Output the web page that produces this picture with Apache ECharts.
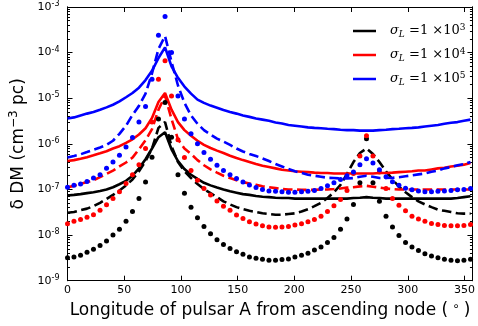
<!DOCTYPE html>
<html>
<head>
<meta charset="utf-8">
<script src="https://cdn.jsdelivr.net/npm/echarts@6/dist/echarts.min.js"></script>
<style>
  html, body { margin: 0; padding: 0; background: #fff; }
  #chart { width: 478px; height: 326px; }
</style>
</head>
<body>
<div id="chart"></div>
<script>
// longitude of pulsar A from ascending node (deg), sample grid
const longitude = [0, 5.7, 11.5, 17.2, 22.9, 28.7, 34.4, 40.1, 45.8, 51.6, 57.3, 63, 68.8, 74.5, 80.2, 86,
  91.7, 97.4, 103.1, 108.9, 114.6, 120.3, 126.1, 131.8, 137.5, 143.3, 149, 154.7, 160.4, 166.2, 171.9, 177.6,
  183.4, 189.1, 194.8, 200.5, 206.3, 212, 217.7, 223.5, 229.2, 234.9, 240.7, 246.4, 252.1, 257.8, 263.6, 269.3,
  275, 280.8, 286.5, 292.2, 298, 303.7, 309.4, 315.1, 320.9, 326.6, 332.3, 338.1, 343.8, 349.5, 355.3];

// sigma_L = 1e3 (black)
const blackSolid = [7.4e-8, 7.6e-8, 7.9e-8, 8.3e-8, 8.7e-8, 9.3e-8, 1.0e-7, 1.12e-7, 1.3e-7, 1.55e-7, 2.0e-7, 2.9e-7, 4.6e-7, 7.9e-7, 1.4e-6, 1.8e-6,
  7.6e-7, 4.2e-7, 2.8e-7, 2.1e-7, 1.7e-7, 1.4e-7, 1.23e-7, 1.1e-7, 1.0e-7, 9.1e-8, 8.5e-8, 7.9e-8, 7.6e-8, 7.2e-8, 6.9e-8, 6.8e-8,
  6.6e-8, 6.5e-8, 6.5e-8, 6.3e-8, 6.3e-8, 6.3e-8, 6.3e-8, 6.3e-8, 6.3e-8, 6.3e-8, 6.3e-8, 6.3e-8, 6.5e-8, 6.6e-8, 6.8e-8, 6.6e-8,
  6.5e-8, 6.3e-8, 6.3e-8, 6.3e-8, 6.3e-8, 6.3e-8, 6.3e-8, 6.3e-8, 6.3e-8, 6.3e-8, 6.3e-8, 6.3e-8, 6.5e-8, 6.8e-8, 7.1e-8];
const blackDashed = [3.1e-8, 3.2e-8, 3.5e-8, 3.8e-8, 4.3e-8, 5.1e-8, 6.2e-8, 7.6e-8, 9.5e-8, 1.23e-7, 1.66e-7, 2.5e-7, 4.2e-7, 7.9e-7, 2.24e-6, 3.0e-6,
  8.9e-7, 4.0e-7, 2.5e-7, 1.78e-7, 1.32e-7, 1.02e-7, 8.3e-8, 6.8e-8, 5.5e-8, 4.7e-8, 4.1e-8, 3.7e-8, 3.4e-8, 3.2e-8, 3.0e-8, 2.9e-8,
  2.8e-8, 2.8e-8, 2.9e-8, 3.0e-8, 3.3e-8, 3.7e-8, 4.3e-8, 5.1e-8, 6.5e-8, 8.7e-8, 1.26e-7, 2.2e-7, 4.0e-7, 6.3e-7, 7.9e-7, 6.0e-7,
  4.0e-7, 2.5e-7, 1.66e-7, 1.15e-7, 8.7e-8, 6.8e-8, 5.5e-8, 4.7e-8, 4.1e-8, 3.6e-8, 3.4e-8, 3.2e-8, 3.0e-8, 2.95e-8, 2.95e-8];
const blackDotted = [3.2e-9, 3.3e-9, 3.6e-9, 4.2e-9, 4.9e-9, 5.9e-9, 7.4e-9, 1.0e-8, 1.35e-8, 2.0e-8, 3.3e-8, 6.3e-8, 1.45e-7, 5.1e-7, 3.5e-6, 8.1e-6,
  1.4e-6, 2.1e-7, 8.3e-8, 4.1e-8, 2.4e-8, 1.55e-8, 1.07e-8, 7.9e-9, 6.2e-9, 5.1e-9, 4.3e-9, 3.8e-9, 3.3e-9, 3.1e-9, 2.95e-9, 2.8e-9,
  2.8e-9, 2.9e-9, 3.0e-9, 3.3e-9, 3.6e-9, 4.0e-9, 4.7e-9, 5.5e-9, 6.9e-9, 8.9e-9, 1.35e-8, 2.24e-8, 4.7e-8, 1.4e-7, 1.3e-6, 1.4e-7,
  5.5e-8, 2.6e-8, 1.5e-8, 9.8e-9, 6.9e-9, 5.5e-9, 4.6e-9, 3.9e-9, 3.5e-9, 3.2e-9, 2.95e-9, 2.8e-9, 2.75e-9, 2.8e-9, 2.95e-9];

// sigma_L = 1e4 (red)
const redSolid = [4.2e-7, 4.4e-7, 4.7e-7, 5.1e-7, 5.6e-7, 6.2e-7, 6.9e-7, 7.9e-7, 8.9e-7, 1.05e-6, 1.26e-6, 1.6e-6, 2.2e-6, 3.7e-6, 8.3e-6, 1.3e-5,
  5.6e-6, 3.0e-6, 2.0e-6, 1.5e-6, 1.17e-6, 9.5e-7, 8.1e-7, 7.1e-7, 6.3e-7, 5.5e-7, 4.9e-7, 4.4e-7, 4.0e-7, 3.6e-7, 3.3e-7, 3.1e-7,
  2.9e-7, 2.7e-7, 2.6e-7, 2.5e-7, 2.45e-7, 2.4e-7, 2.34e-7, 2.3e-7, 2.3e-7, 2.24e-7, 2.24e-7, 2.24e-7, 2.24e-7, 2.24e-7, 2.24e-7, 2.24e-7,
  2.3e-7, 2.3e-7, 2.34e-7, 2.4e-7, 2.45e-7, 2.5e-7, 2.6e-7, 2.6e-7, 2.75e-7, 2.9e-7, 3.0e-7, 3.2e-7, 3.3e-7, 3.5e-7, 3.8e-7];
const redDashed = [1.12e-7, 1.2e-7, 1.32e-7, 1.45e-7, 1.6e-7, 1.86e-7, 2.2e-7, 2.6e-7, 3.2e-7, 3.9e-7, 5.0e-7, 7.6e-7, 1.2e-6, 2.1e-6, 5.6e-6, 1.12e-5,
  3.5e-6, 1.26e-6, 7.9e-7, 6.0e-7, 4.4e-7, 3.4e-7, 2.75e-7, 2.34e-7, 2.0e-7, 1.78e-7, 1.6e-7, 1.45e-7, 1.35e-7, 1.26e-7, 1.17e-7, 1.12e-7,
  1.07e-7, 1.02e-7, 1.0e-7, 1.0e-7, 9.8e-8, 9.8e-8, 9.8e-8, 1.0e-7, 1.0e-7, 1.02e-7, 1.05e-7, 1.1e-7, 1.12e-7, 1.17e-7, 1.2e-7, 1.15e-7,
  1.1e-7, 1.05e-7, 1.02e-7, 1.0e-7, 1.0e-7, 1.0e-7, 1.0e-7, 1.0e-7, 1.0e-7, 1.0e-7, 1.0e-7, 1.0e-7, 1.0e-7, 1.0e-7, 1.0e-7];
const redDotted = [1.78e-8, 2.0e-8, 2.2e-8, 2.45e-8, 2.8e-8, 3.5e-8, 4.6e-8, 6.3e-8, 8.9e-8, 1.35e-7, 2.1e-7, 3.5e-7, 7.9e-7, 3.0e-6, 2.6e-5, 6.6e-5,
  1.12e-5, 1.23e-6, 5.0e-7, 2.6e-7, 1.6e-7, 1.05e-7, 7.6e-8, 5.6e-8, 4.3e-8, 3.5e-8, 2.75e-8, 2.3e-8, 1.95e-8, 1.74e-8, 1.6e-8, 1.5e-8,
  1.48e-8, 1.5e-8, 1.55e-8, 1.66e-8, 1.78e-8, 1.95e-8, 2.2e-8, 2.6e-8, 3.3e-8, 4.4e-8, 6.0e-8, 9.5e-8, 2.24e-7, 5.4e-7, 1.5e-6, 5.4e-7,
  2.4e-7, 1.05e-7, 6.3e-8, 4.5e-8, 3.4e-8, 2.6e-8, 2.24e-8, 2.0e-8, 1.8e-8, 1.7e-8, 1.62e-8, 1.6e-8, 1.6e-8, 1.62e-8, 1.7e-8];

// sigma_L = 1e5 (blue)
const blueSolid = [3.6e-6, 3.8e-6, 4.2e-6, 4.6e-6, 5.0e-6, 5.6e-6, 6.3e-6, 7.2e-6, 8.5e-6, 1.05e-5, 1.3e-5, 1.7e-5, 2.5e-5, 4.0e-5, 7.6e-5, 1.3e-4,
  5.0e-5, 2.8e-5, 1.8e-5, 1.26e-5, 9.3e-6, 7.9e-6, 6.9e-6, 6.2e-6, 5.5e-6, 5.0e-6, 4.6e-6, 4.2e-6, 3.9e-6, 3.6e-6, 3.4e-6, 3.2e-6,
  2.95e-6, 2.8e-6, 2.6e-6, 2.5e-6, 2.4e-6, 2.3e-6, 2.24e-6, 2.2e-6, 2.14e-6, 2.1e-6, 2.04e-6, 2.0e-6, 2.0e-6, 1.95e-6, 1.95e-6, 1.95e-6,
  2.0e-6, 2.04e-6, 2.1e-6, 2.14e-6, 2.2e-6, 2.24e-6, 2.3e-6, 2.4e-6, 2.5e-6, 2.6e-6, 2.75e-6, 2.9e-6, 3.0e-6, 3.2e-6, 3.4e-6];
const blueDashed = [5.0e-7, 5.4e-7, 5.9e-7, 6.6e-7, 7.4e-7, 8.3e-7, 9.5e-7, 1.17e-6, 1.66e-6, 2.5e-6, 4.3e-6, 6.8e-6, 1.26e-5, 3.5e-5, 1.2e-4, 2.3e-4,
  6.3e-5, 1.9e-5, 7.9e-6, 4.2e-6, 2.75e-6, 2.0e-6, 1.6e-6, 1.3e-6, 1.12e-6, 9.5e-7, 7.9e-7, 6.8e-7, 6.0e-7, 5.4e-7, 4.8e-7, 4.2e-7,
  3.6e-7, 3.2e-7, 2.8e-7, 2.5e-7, 2.3e-7, 2.1e-7, 2.0e-7, 1.9e-7, 1.8e-7, 1.78e-7, 1.74e-7, 1.74e-7, 1.78e-7, 1.9e-7, 2.0e-7, 1.9e-7,
  1.78e-7, 1.78e-7, 1.8e-7, 1.86e-7, 1.95e-7, 2.04e-7, 2.14e-7, 2.24e-7, 2.45e-7, 2.6e-7, 2.9e-7, 3.1e-7, 3.4e-7, 3.6e-7, 4.0e-7];
const blueDotted = [1.12e-7, 1.23e-7, 1.32e-7, 1.5e-7, 1.78e-7, 2.1e-7, 2.9e-7, 4.0e-7, 5.6e-7, 8.5e-7, 1.38e-6, 3.0e-6, 6.6e-6, 2.6e-5, 2.4e-4, 6.2e-4,
  1.0e-4, 1.12e-5, 3.5e-6, 1.66e-6, 1.0e-6, 6.5e-7, 4.6e-7, 3.4e-7, 2.6e-7, 2.1e-7, 1.74e-7, 1.45e-7, 1.26e-7, 1.1e-7, 1.0e-7, 9.3e-8,
  9.1e-8, 8.9e-8, 8.7e-8, 8.7e-8, 8.9e-8, 9.1e-8, 9.5e-8, 1.05e-7, 1.2e-7, 1.4e-7, 1.66e-7, 2.0e-7, 2.4e-7, 3.5e-7, 4.7e-7, 3.8e-7,
  2.7e-7, 1.9e-7, 1.48e-7, 1.23e-7, 1.07e-7, 9.8e-8, 9.3e-8, 8.9e-8, 8.9e-8, 9.1e-8, 9.3e-8, 9.5e-8, 9.8e-8, 1.0e-7, 1.05e-7];

const legendExponents = ['3', '4', '5'];
const xTicks = [0, 50, 100, 150, 200, 250, 300, 350];
const yMajorTicks = [1e-9, 1e-8, 1e-7, 1e-6, 1e-5, 1e-4, 1e-3];
const yMinorTicks = [
  2e-9, 3e-9, 4e-9, 5e-9, 6e-9, 7e-9, 8e-9, 9e-9,
  2e-8, 3e-8, 4e-8, 5e-8, 6e-8, 7e-8, 8e-8, 9e-8,
  2e-7, 3e-7, 4e-7, 5e-7, 6e-7, 7e-7, 8e-7, 9e-7,
  2e-6, 3e-6, 4e-6, 5e-6, 6e-6, 7e-6, 8e-6, 9e-6,
  2e-5, 3e-5, 4e-5, 5e-5, 6e-5, 7e-5, 8e-5, 9e-5,
  2e-4, 3e-4, 4e-4, 5e-4, 6e-4, 7e-4, 8e-4, 9e-4
];

const chart = echarts.init(document.getElementById('chart'));
const font = 'DejaVu Sans';
const pairs = ys => longitude.map((x, i) => [x, ys[i]]);

const solidNames = legendExponents.map(e => 'sigmaL 1e' + e);

function line(name, color, ys, dash) {
  return {
    name: name,
    type: 'line',
    data: pairs(ys),
    showSymbol: false,
    symbol: 'none',
    itemStyle: { color: color },
    lineStyle: { color: color, width: 2.6, type: dash ? [9.5, 4.5] : 'solid' },
    emphasis: { disabled: true },
    z: 2
  };
}

function dots(name, color, ys) {
  return {
    name: name,
    type: 'scatter',
    data: pairs(ys),
    symbol: 'circle',
    symbolSize: 5,
    itemStyle: { color: color, opacity: 1 },
    emphasis: { disabled: true },
    z: 3
  };
}

function yAxis(pos, ticks, len) {
  return {
    type: 'log',
    logBase: 10,
    min: 1e-9,
    max: 1e-3,
    position: pos,
    axisLine: { show: true, onZero: false, lineStyle: { color: '#000', width: 1 } },
    axisTick: { show: true, inside: true, length: len, customValues: ticks, lineStyle: { color: '#000', width: 1 } },
    axisLabel: { show: false },
    splitLine: { show: false },
    minorTick: { show: false }
  };
}

const yMain = yAxis('left', yMajorTicks, 5);
yMain.axisLabel = {
  show: true,
  customValues: yMajorTicks,
  margin: 8,
  formatter: v => '{b|10}{s|' + Math.round(Math.log10(v)) + '}',
  rich: {
    b: { fontFamily: font, fontSize: 11, color: '#000', lineHeight: 14 },
    s: { fontFamily: font, fontSize: 8, color: '#000', lineHeight: 8, verticalAlign: 'top' }
  }
};
yMain.name = '{a|\u03b4 DM (cm}{s|\u22123}{a| pc)}';
yMain.nameLocation = 'middle';
yMain.nameRotate = 90;
yMain.nameGap = 39;
yMain.nameTextStyle = {
  rich: {
    a: { fontFamily: font, fontSize: 17, color: '#000', lineHeight: 20 },
    s: { fontFamily: font, fontSize: 12, color: '#000', lineHeight: 12, verticalAlign: 'top' }
  }
};

function xAxis(pos, showLabel) {
  return {
    type: 'value',
    min: 0,
    max: 357,
    position: pos,
    axisLine: { show: true, onZero: false, lineStyle: { color: '#000', width: 1 } },
    axisTick: { show: true, inside: true, length: 5, customValues: xTicks, lineStyle: { color: '#000', width: 1 } },
    axisLabel: showLabel
      ? { show: true, customValues: xTicks, margin: 4, color: '#000', fontFamily: font, fontSize: 11 }
      : { show: false },
    splitLine: { show: false }
  };
}

const xMain = xAxis('bottom', true);
xMain.name = '{a|Longitude of pulsar A from ascending node (}{s|\u2218}{a|)}';
xMain.nameLocation = 'middle';
xMain.nameGap = 18;
xMain.nameTextStyle = {
  rich: {
    a: { fontFamily: font, fontSize: 17, color: '#000', lineHeight: 20 },
    s: { fontFamily: font, fontSize: 12, color: '#000', lineHeight: 12, verticalAlign: 'top', padding: [0, 4, 0, 4] }
  }
};

const option = {
  animation: false,
  backgroundColor: '#fff',
  grid: { left: 67.5, right: 3.7, top: 6, bottom: 45.3, containLabel: false },
  xAxis: [xMain, xAxis('top', false)],
  yAxis: [yMain, yAxis('left', yMinorTicks, 2.5), yAxis('right', yMajorTicks, 5), yAxis('right', yMinorTicks, 2.5)],
  legend: {
    data: solidNames,
    orient: 'vertical',
    left: 348,
    top: 18,
    icon: 'rect',
    itemWidth: 23,
    itemHeight: 2.5,
    itemGap: 8,
    selectedMode: false,
    formatter: name => '{g| }{i|\u03c3}{sub|L}{t| =1 \u00d710}{sup|' + legendExponents[solidNames.indexOf(name)] + '}',
    textStyle: {
      rich: {
        g: { width: 9, lineHeight: 16 },
        i: { fontFamily: 'DejaVu Serif', fontStyle: 'italic', fontSize: 13, color: '#000', lineHeight: 16 },
        sub: { fontFamily: 'DejaVu Serif', fontStyle: 'italic', fontSize: 9, color: '#000', lineHeight: 9, verticalAlign: 'bottom' },
        t: { fontFamily: 'DejaVu Serif', fontSize: 13, color: '#000', lineHeight: 16 },
        sup: { fontFamily: 'DejaVu Serif', fontSize: 9, color: '#000', lineHeight: 9, verticalAlign: 'top' }
      }
    }
  },
  series: [
    line(solidNames[0], '#000000', blackSolid, false),
    line('black dashed', '#000000', blackDashed, true),
    dots('black dotted', '#000000', blackDotted),
    line(solidNames[1], '#ff0000', redSolid, false),
    line('red dashed', '#ff0000', redDashed, true),
    dots('red dotted', '#ff0000', redDotted),
    line(solidNames[2], '#0000ff', blueSolid, false),
    line('blue dashed', '#0000ff', blueDashed, true),
    dots('blue dotted', '#0000ff', blueDotted)
  ]
};

chart.setOption(option);
</script>
</body>
</html>
